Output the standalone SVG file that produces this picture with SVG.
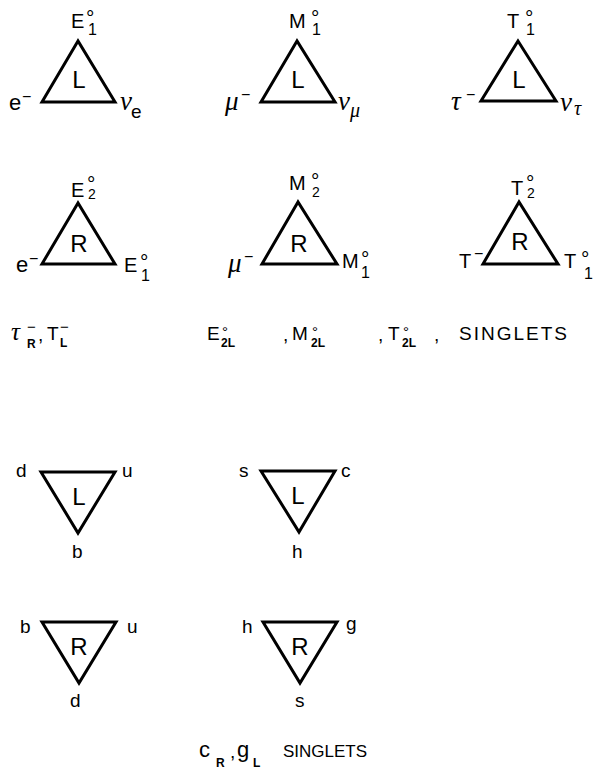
<svg xmlns="http://www.w3.org/2000/svg" width="596" height="775" viewBox="0 0 596 775">
<style>
.bg{fill:#fff}
.tri{fill:none;stroke:#000;stroke-width:3;stroke-linejoin:miter}
text{font-family:"Liberation Sans",Arial,sans-serif;fill:#000}
.c{font-size:20px}
.in{font-size:24px;text-anchor:middle}
.deg{font-size:21px}
.sub{font-size:16px}
.sub2{font-size:14px}
.lc{font-size:22px}
.gr{font-family:"Liberation Serif","DejaVu Serif",serif;font-style:italic;font-size:27px}
.grs{font-family:"Liberation Serif","DejaVu Serif",serif;font-style:italic;font-size:20px}
.lcs{font-size:19px}
.mi{font-size:16px}
.q{font-size:19px}
.sg{font-size:19px}
.sgs{font-size:12px;font-weight:bold}
.sgd{font-size:15px}
</style>
<rect class="bg" x="0" y="0" width="596" height="775"/>

<!-- Row 1: left-handed lepton triplets -->
<g id="tri-e-L">
  <polygon class="tri" points="78,41 42,102 115,102"/>
  <text class="in" x="79" y="88">L</text>
  <text class="c" x="71" y="28">E</text>
  <text class="deg" x="86" y="25">°</text>
  <text class="sub" x="88" y="35">1</text>
  <text class="lc" x="9" y="110">e</text>
  <text class="mi" x="22" y="102">−</text>
  <text class="gr" x="120" y="110">ν</text>
  <text class="lcs" x="131" y="118">e</text>
</g>
<g id="tri-mu-L">
  <polygon class="tri" points="297,41 261,102 335,102"/>
  <text class="in" x="298" y="88">L</text>
  <text class="c" x="289" y="28">M</text>
  <text class="deg" x="311" y="25">°</text>
  <text class="sub" x="312" y="35">1</text>
  <text class="gr" x="225" y="110">μ</text>
  <text class="mi" x="241" y="100">−</text>
  <text class="gr" x="338" y="110">ν</text>
  <text class="grs" x="350" y="117">μ</text>
</g>
<g id="tri-tau-L">
  <polygon class="tri" points="518,41 481,101 556,101"/>
  <text class="in" x="519" y="88">L</text>
  <text class="c" x="507" y="28">T</text>
  <text class="deg" x="525" y="25">°</text>
  <text class="sub" x="526" y="35">1</text>
  <text class="gr" x="451" y="110">τ</text>
  <text class="mi" x="466" y="100">−</text>
  <text class="gr" x="560" y="111">ν</text>
  <text class="grs" x="574" y="115">τ</text>
</g>

<!-- Row 2: right-handed lepton triplets -->
<g id="tri-e-R">
  <polygon class="tri" points="78,203 42,264 115,264"/>
  <text class="in" x="79" y="252">R</text>
  <text class="c" x="71" y="197">E</text>
  <text class="deg" x="87" y="191">°</text>
  <text class="sub2" x="88" y="199">2</text>
  <text class="lc" x="16" y="272">e</text>
  <text class="mi" x="29" y="264">−</text>
  <text class="c" x="124" y="272">E</text>
  <text class="deg" x="140" y="269">°</text>
  <text class="sub" x="141" y="281">1</text>
</g>
<g id="tri-mu-R">
  <polygon class="tri" points="298,202 262,264 337,264"/>
  <text class="in" x="299" y="252">R</text>
  <text class="c" x="289" y="190">M</text>
  <text class="deg" x="311" y="188">°</text>
  <text class="sub2" x="312" y="197">2</text>
  <text class="gr" x="228" y="272">μ</text>
  <text class="mi" x="244" y="262">−</text>
  <text class="c" x="342" y="268">M</text>
  <text class="deg" x="361" y="266">°</text>
  <text class="sub" x="361" y="278">1</text>
</g>
<g id="tri-tau-R">
  <polygon class="tri" points="519,202 483,264 558,264"/>
  <text class="in" x="520" y="250">R</text>
  <text class="c" x="511" y="195">T</text>
  <text class="deg" x="526" y="190">°</text>
  <text class="sub2" x="527" y="198">2</text>
  <text class="c" x="459" y="268">T</text>
  <text class="mi" x="474" y="259">−</text>
  <text class="c" x="564" y="268">T</text>
  <text class="deg" x="581" y="266">°</text>
  <text class="sub" x="584" y="279">1</text>
</g>

<!-- Lepton singlets line -->
<g id="lepton-singlets">
  <text class="gr" x="11" y="340" style="font-size:25px">τ</text>
  <text class="sgd" x="27" y="332">−</text>
  <text class="sgs" x="27" y="348">R</text>
  <text class="sg" x="38" y="341">,</text>
  <text class="sg" x="47" y="340">T</text>
  <text class="sgd" x="60" y="332">−</text>
  <text class="sgs" x="60" y="347">L</text>
  <text class="sg" x="207" y="340">E</text>
  <text class="sgd" x="222" y="337">°</text>
  <text class="sgs" x="221" y="347">2L</text>
  <text class="sg" x="283" y="341">,</text>
  <text class="sg" x="292" y="340">M</text>
  <text class="sgd" x="312" y="337">°</text>
  <text class="sgs" x="311" y="347">2L</text>
  <text class="sg" x="378" y="341">,</text>
  <text class="sg" x="388" y="340">T</text>
  <text class="sgd" x="403" y="337">°</text>
  <text class="sgs" x="402" y="347">2L</text>
  <text class="sg" x="434" y="341">,</text>
  <text class="sg" x="459" y="340" style="letter-spacing:2px">SINGLETS</text>
</g>

<!-- Quark triplets -->
<g id="tri-q1-L">
  <polygon class="tri" points="41,472 115,472 78,533"/>
  <text class="in" x="79" y="505">L</text>
  <text class="q" x="16" y="477">d</text>
  <text class="q" x="122" y="477">u</text>
  <text class="q" x="72" y="558">b</text>
</g>
<g id="tri-q2-L">
  <polygon class="tri" points="261,471 335,471 299,532"/>
  <text class="in" x="298" y="504">L</text>
  <text class="q" x="239" y="477">s</text>
  <text class="q" x="341" y="477">c</text>
  <text class="q" x="292" y="558">h</text>
</g>
<g id="tri-q1-R">
  <polygon class="tri" points="42,622 116,622 79,683"/>
  <text class="in" x="79" y="655">R</text>
  <text class="q" x="20" y="633">b</text>
  <text class="q" x="127" y="633">u</text>
  <text class="q" x="70" y="707">d</text>
</g>
<g id="tri-q2-R">
  <polygon class="tri" points="263,622 337,622 300,683"/>
  <text class="in" x="300" y="655">R</text>
  <text class="q" x="242" y="633">h</text>
  <text class="q" x="346" y="630">g</text>
  <text class="q" x="295" y="707">s</text>
</g>

<!-- Quark singlets line -->
<g id="quark-singlets">
  <text class="lc" x="199" y="757">c</text>
  <text class="sgs" x="216" y="767">R</text>
  <text class="sg" x="230" y="758">,</text>
  <text class="lc" x="237" y="757">g</text>
  <text class="sgs" x="253" y="767">L</text>
  <text class="sg" x="283" y="757" style="font-size:17px">SINGLETS</text>
</g>
</svg>
